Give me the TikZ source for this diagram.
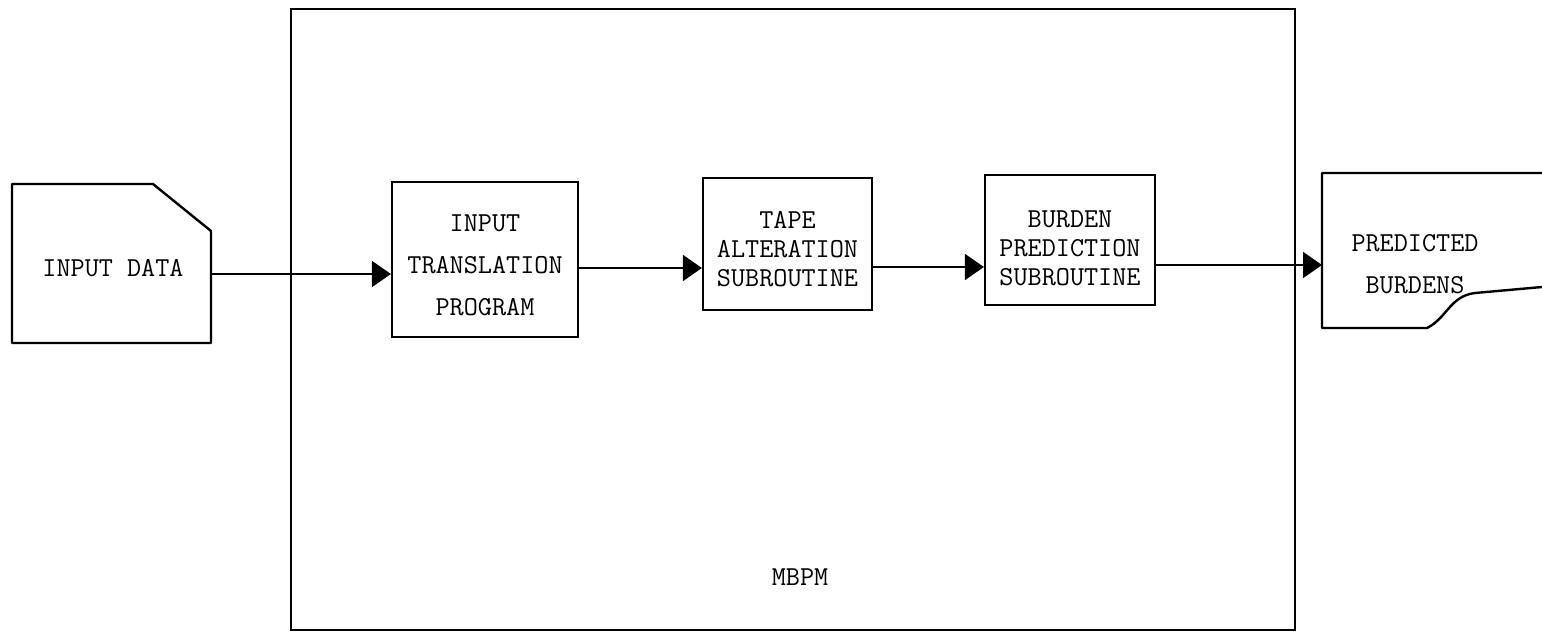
\documentclass[tikz,border=0pt]{standalone}
\usepackage{fontspec}
\usetikzlibrary{arrows.meta}
\begin{document}
\begin{tikzpicture}[x=0.5pt,y=-0.5pt,
  box/.style={draw,line width=1.1pt,inner sep=0pt},
  shapeline/.style={line width=1.2pt,line join=round},
  txt/.style={font=\ttfamily\fontsize{13.7}{#1}\selectfont\addfontfeatures{FakeBold=0.6},align=center,inner sep=0pt},
  txt/.default={14.5},
  conn/.style={line width=0.9pt,-{Triangle[length=9.5pt,width=13pt]}}]
\useasboundingbox (0,0) rectangle (1542,637);
% MBPM enclosing box
\node[box,line width=1pt,minimum width=502pt,minimum height=310.5pt] (mbpm) at (793,319.5) {};
\node[txt] (mbpmT) at (800,577) {MBPM};
% input data (card shape)
\draw[shapeline] (12,184) -- (153,184) -- (211,231) -- (211,343) -- (12,343) -- cycle;
\node[txt] (idT) at (113,268) {INPUT DATA};
\coordinate (idout) at (211,274);
% process boxes
\node[box,minimum width=93pt,minimum height=77.5pt] (it) at (485,259.5) {};
\node[txt=21] (itT) at (485,265) {INPUT\\TRANSLATION\\PROGRAM};
\node[box,minimum width=84.5pt,minimum height=66pt] (ta) at (787.5,244) {};
\node[txt] (taT) at (787.5,249) {TAPE\\ALTERATION\\SUBROUTINE};
\node[box,minimum width=85pt,minimum height=65pt] (bp) at (1070,240) {};
\node[txt] (bpT) at (1070,248.5) {BURDEN\\PREDICTION\\SUBROUTINE};
% predicted burdens (document shape, cut at right edge)
\draw[shapeline] (1542,173) -- (1322,173) -- (1322,328) -- (1427,328)
  .. controls (1447,318) and (1450,296) .. (1475,293) -- (1542,287);
\node[txt=21] (pbT) at (1415,264) {PREDICTED\\BURDENS};
\coordinate (pbin) at (1322,265);
% level coordinates
\coordinate (l2) at (0,268);
\coordinate (l3) at (0,267);
% connectors
\draw[conn] (idout) -- (idout -| it.west);
\draw[conn] (it.east |- l2) -- (ta.west |- l2);
\draw[conn] (ta.east |- l3) -- (bp.west |- l3);
\draw[conn] (bp.east |- pbin) -- (pbin);
\end{tikzpicture}
\end{document}
